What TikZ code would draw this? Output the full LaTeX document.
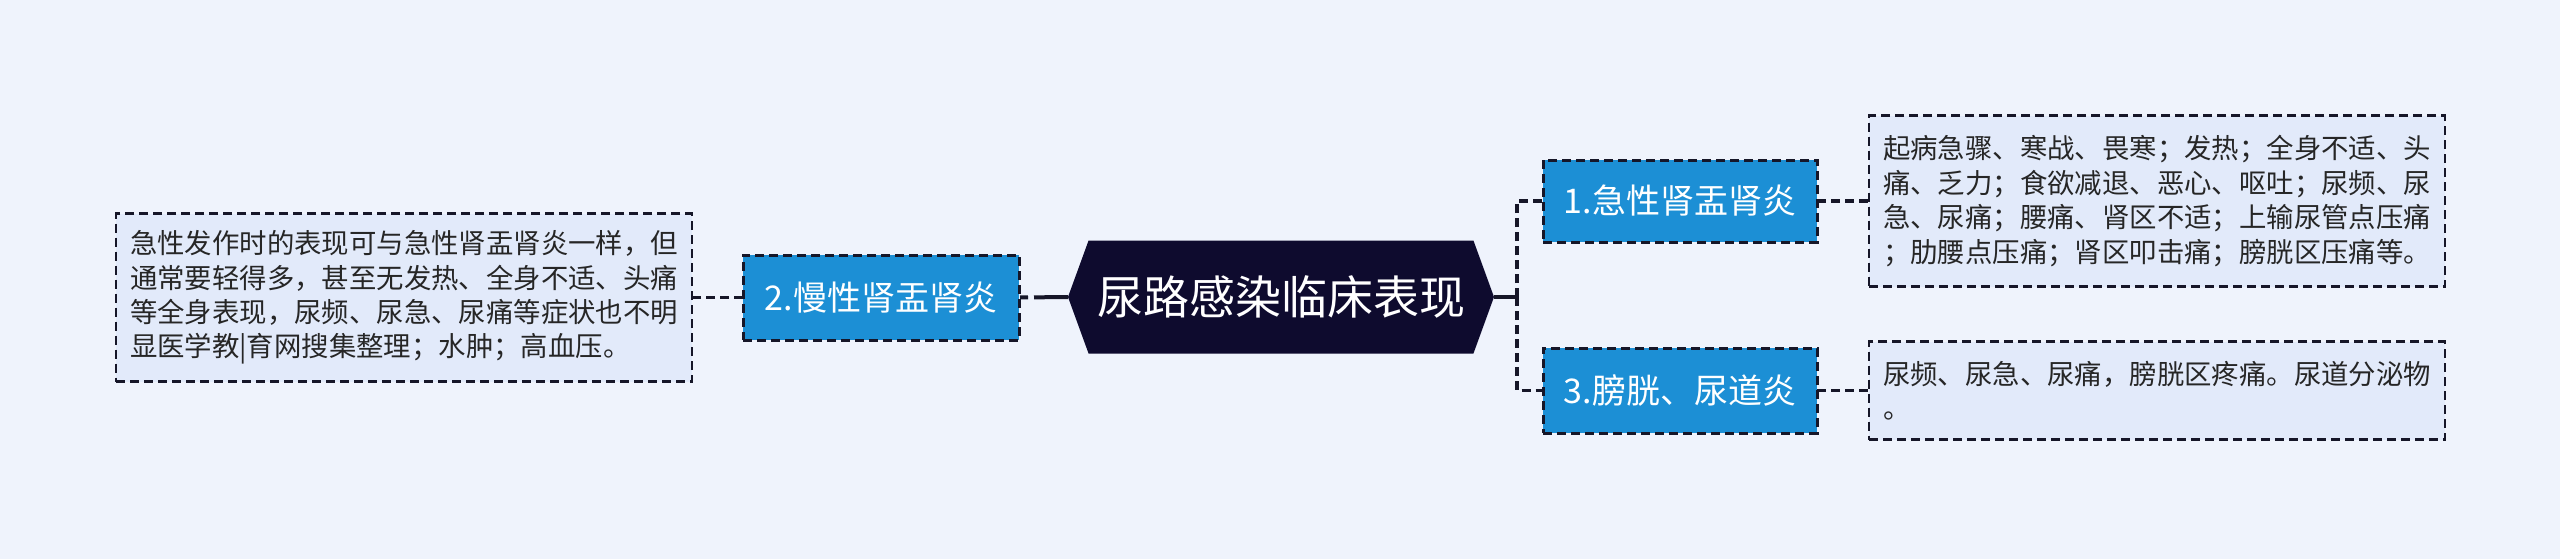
\documentclass[tikz,border=0pt]{standalone}
\usepackage{fontspec}
\setmainfont{Noto Sans CJK SC}
\usetikzlibrary{positioning,shapes.symbols}
\definecolor{bgpage}{RGB}{239,243,252}
\definecolor{rootfill}{RGB}{14,11,46}
\definecolor{topicblue}{RGB}{28,143,213}
\definecolor{notefill}{RGB}{226,234,250}
\definecolor{edgedark}{RGB}{22,22,40}

\tikzset{
  topic/.style={draw=edgedark, line width=1.5pt, dash pattern=on 4.5pt off 2.5pt,
    fill=topicblue, text=white, rectangle, outer sep=0pt,
    minimum width=137pt, minimum height=41pt, font=\fontsize{17pt}{20pt}\selectfont},
  note/.style={draw=edgedark, line width=1.4pt, dash pattern=on 4.5pt off 2.5pt,
    fill=notefill, text=black!85, rectangle, outer sep=0pt, align=left,
    minimum width=288pt, font=\fontsize{13.7pt}{17.2pt}\selectfont},
  link/.style={draw=edgedark, line width=1.8pt, dash pattern=on 4.5pt off 2.5pt}
}

\begin{document}
\begin{tikzpicture}[x=0.5pt,y=-0.5pt]
    \fill[bgpage] (0,0) rectangle (2560,559);
    \useasboundingbox (0,0) rectangle (2560,559);

    % Root
    \node[signal, signal to=west and east, signal pointer angle=140, fill=rootfill,
      text=white, minimum width=213pt, minimum height=56.5pt, outer sep=0pt,
      font=\fontsize{23pt}{26pt}\selectfont] (root) at (1281,297) {尿路感染临床表现};

    % Topics
    \node[topic] (acute) at (1680,201) {1.急性肾盂肾炎};
    \node[topic, minimum height=42.5pt] (bladder) at (1680,390.5) {3.膀胱、尿道炎};
    \node[topic, minimum height=42.5pt, minimum width=138pt] (chronic) at (881,297.5) {2.慢性肾盂肾炎};

    % Notes
    \node[note, minimum height=85.5pt, right=26pt of acute] (acutenote) {
      起病急骤、寒战、畏寒；发热；全身不适、头\\
      痛、乏力；食欲减退、恶心、呕吐；尿频、尿\\
      急、尿痛；腰痛、肾区不适；上输尿管点压痛\\
      ；肋腰点压痛；肾区叩击痛；膀胱区压痛等。};
    \node[note, minimum height=49pt, right=26pt of bladder] (bladdernote) {
      尿频、尿急、尿痛，膀胱区疼痛。尿道分泌物\\
      。};
    \node[note, minimum height=84pt, left=25.5pt of chronic] (chronicnote) {
      急性发作时的表现可与急性肾盂肾炎一样，但\\
      通常要轻得多，甚至无发热、全身不适、头痛\\
      等全身表现，尿频、尿急、尿痛等症状也不明\\
      显医学教|育网搜集整理；水肿；高血压。};

    % Connectors
    \coordinate (fork) at (1517,297);
    \draw[edgedark, line width=2pt] (root.east) -- (fork);
    \draw[link] (fork) |- (acute.west);
    \draw[link] (fork) |- (bladder.west);
    \draw[edgedark, line width=2pt, dash pattern=on 17pt off 3pt on 4pt off 3pt] (root.west) -- (chronic.east);
    \draw[link] (acute.east) -- (acutenote.west);
    \draw[link] (bladder.east) -- (bladdernote.west);
    \draw[link] (chronic.west) -- (chronicnote.east);
\end{tikzpicture}
\end{document}
